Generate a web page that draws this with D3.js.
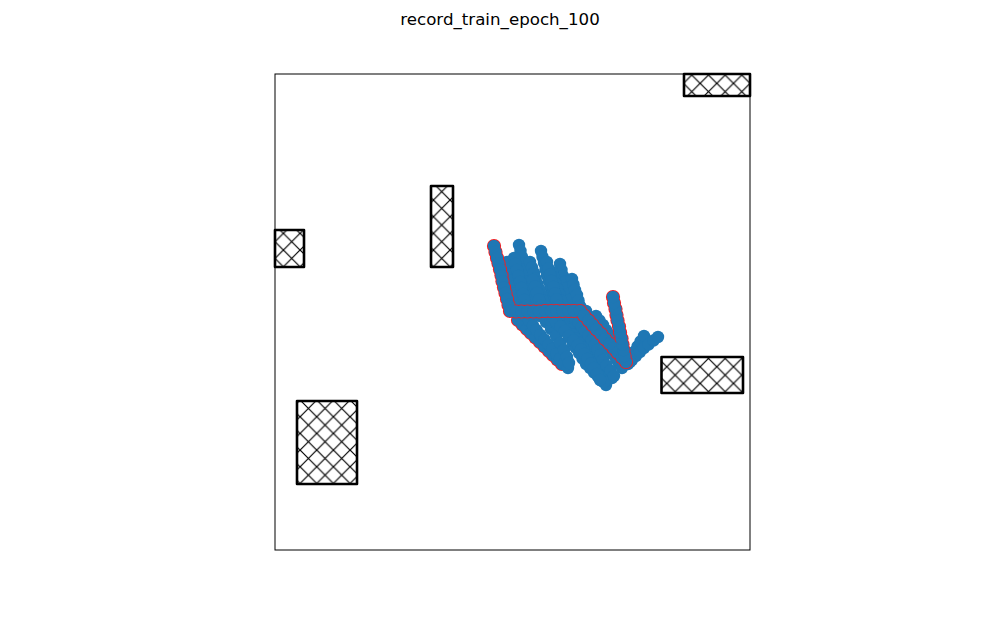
<!DOCTYPE html>
<html><head><meta charset="utf-8">
<script src="https://cdn.jsdelivr.net/npm/d3@7"></script>
<style>body{margin:0;background:#fff}</style>
</head><body><svg id="c" width="1000" height="618"></svg>
<script>
const chartTitle = "record_train_epoch_100";
const xDomain = [0, 9.5];
const yDomain = [0, 9.52];

// obstacles: [x0, y0, x1, y1]
const obstacles = [
  [8.18, 9.08, 9.50, 9.52],
  [0.00, 5.66, 0.58, 6.40],
  [3.12, 5.66, 3.56, 7.28],
  [0.44, 1.32, 1.64, 2.98],
  [7.73, 3.14, 9.36, 3.86]
];

// highlighted (red-outlined) trajectories
const highlightLower = [[4.86,4.60],[4.95,4.51],[5.04,4.42],[5.12,4.34],[5.21,4.25],[5.30,4.16],[5.39,4.07],[5.48,3.98],[5.56,3.90],[5.65,3.81],[5.74,3.72]];
const highlightMain = [
  [4.38,6.08],[4.41,5.96],[4.44,5.84],[4.47,5.73],[4.50,5.61],[4.53,5.49],[4.55,5.37],[4.58,5.25],[4.61,5.14],[4.64,5.02],[4.67,4.90],[4.70,4.78],
  [4.82,4.77],[4.93,4.77],[5.05,4.77],[5.17,4.77],[5.28,4.77],[5.40,4.78],[5.52,4.78],[5.63,4.78],[5.75,4.78],[5.87,4.78],[5.98,4.78],[6.10,4.78],
  [6.18,4.69],[6.27,4.59],[6.35,4.50],[6.43,4.41],[6.52,4.32],[6.60,4.22],[6.69,4.13],[6.77,4.04],[6.85,3.95],[6.94,3.85],[7.02,3.76],
  [6.99,3.88],[6.97,4.00],[6.95,4.11],[6.93,4.23],[6.90,4.35],[6.88,4.47],[6.85,4.59],[6.83,4.70],[6.81,4.82],[6.78,4.94],[6.76,5.06]
];

// other recorded trajectories
const traj0 = [[4.64,5.76],[4.67,5.63],[4.70,5.51],[4.73,5.38],[4.75,5.26],[4.78,5.13],[4.81,5.01],[4.84,4.88],[4.92,4.78],[5.00,4.68],[5.08,4.59],[5.16,4.49],[5.23,4.40],[5.31,4.30],[5.39,4.21],[5.47,4.11],[5.55,4.02],[5.63,3.92],[5.70,3.83],[5.78,3.73],[5.86,3.64]];
const traj1 = [[4.88,6.10],[4.91,5.98],[4.94,5.86],[4.97,5.73],[5.00,5.61],[5.03,5.49],[5.06,5.37],[5.09,5.25],[5.12,5.12],[5.15,5.00],[5.18,4.88],[5.24,4.78],[5.30,4.68],[5.42,4.56],[5.52,4.42],[5.62,4.28],[5.70,4.14],[5.78,4.00],[5.84,3.86],[5.88,3.74]];
const traj2 = [[5.32,5.98],[5.35,5.86],[5.38,5.74],[5.41,5.61],[5.44,5.49],[5.48,5.37],[5.51,5.25],[5.54,5.12],[5.57,5.00],[5.60,4.88],[5.64,4.76],[5.68,4.62],[5.74,4.48],[5.81,4.37],[5.88,4.26],[5.95,4.15],[6.01,4.05],[6.08,3.94],[6.15,3.83],[6.22,3.72],[6.30,3.64],[6.38,3.55],[6.46,3.47],[6.54,3.38],[6.62,3.30]];
const traj3 = [[5.10,5.76],[5.14,5.65],[5.18,5.54],[5.21,5.43],[5.25,5.32],[5.29,5.21],[5.33,5.10],[5.36,4.99],[5.40,4.88],[5.52,4.82],[5.64,4.76],[5.78,4.70],[5.90,4.64],[5.98,4.55],[6.05,4.45],[6.13,4.36],[6.20,4.27],[6.28,4.18],[6.35,4.08],[6.43,3.99],[6.50,3.90],[6.56,3.78],[6.62,3.67],[6.68,3.55],[6.74,3.44]];
const traj4 = [[5.70,5.72],[5.73,5.60],[5.76,5.48],[5.79,5.36],[5.83,5.24],[5.86,5.12],[5.89,5.00],[5.92,4.88],[6.02,4.80],[6.10,4.72],[6.20,4.64],[6.27,4.55],[6.34,4.46],[6.41,4.37],[6.49,4.27],[6.56,4.18],[6.63,4.09],[6.70,4.00],[6.76,3.91],[6.82,3.82],[6.88,3.73],[6.94,3.64],[7.02,3.75],[7.10,3.85],[7.18,3.96],[7.25,4.07],[7.31,4.17],[7.38,4.28]];
const traj5 = [[5.54,5.56],[5.58,5.45],[5.61,5.33],[5.65,5.22],[5.69,5.11],[5.72,4.99],[5.76,4.88],[5.88,4.82],[6.00,4.76],[6.12,4.68],[6.24,4.60],[6.36,4.50],[6.46,4.40],[6.53,4.31],[6.59,4.21],[6.66,4.12],[6.73,4.03],[6.79,3.93],[6.86,3.84],[6.96,3.76],[7.06,3.72],[7.14,3.80],[7.22,3.88],[7.30,3.96],[7.38,4.04],[7.47,4.11],[7.57,4.19],[7.66,4.26]];
const traj6 = [[5.94,5.42],[5.97,5.31],[6.00,5.20],[6.04,5.10],[6.07,4.99],[6.10,4.88],[6.22,4.78],[6.34,4.64],[6.44,4.52],[6.54,4.40],[6.64,4.28],[6.74,4.16],[6.84,4.04],[6.92,3.92]];
const traj7 = [[4.78,5.84],[4.81,5.72],[4.84,5.60],[4.87,5.48],[4.90,5.36],[4.93,5.24],[4.96,5.12],[4.99,5.00],[5.02,4.88],[5.14,4.78],[5.28,4.70],[5.40,4.64],[5.52,4.58],[5.64,4.52],[5.78,4.46],[5.90,4.40],[5.96,4.31],[6.03,4.22],[6.09,4.14],[6.16,4.05],[6.22,3.96],[6.28,3.86],[6.34,3.76],[6.40,3.66],[6.46,3.56],[6.52,3.46],[6.58,3.36]];
const traj8 = [[5.44,5.76],[5.47,5.63],[5.50,5.51],[5.53,5.38],[5.57,5.26],[5.60,5.13],[5.63,5.01],[5.66,4.88],[5.78,4.78],[5.90,4.70],[6.00,4.64],[6.07,4.55],[6.14,4.46],[6.20,4.38],[6.27,4.29],[6.34,4.20],[6.40,4.10],[6.45,4.00],[6.51,3.90],[6.56,3.80],[6.63,3.69],[6.71,3.59],[6.78,3.48]];
const traj9 = [[5.16,5.40],[5.20,5.27],[5.24,5.14],[5.28,5.01],[5.32,4.88],[5.44,4.76],[5.54,4.66],[5.62,4.56],[5.71,4.47],[5.80,4.38],[5.88,4.28],[5.97,4.19],[6.06,4.10],[6.12,4.01],[6.19,3.92],[6.25,3.82],[6.32,3.73],[6.38,3.64],[6.44,3.52],[6.50,3.40]];
const traj10 = [[6.42,4.68],[6.49,4.59],[6.56,4.50],[6.62,4.40],[6.69,4.31],[6.76,4.22],[6.83,4.13],[6.90,4.04],[6.96,3.94],[7.03,3.85],[7.10,3.76]];
const blueTrajectories = [traj0, traj1, traj2, traj3, traj4, traj5, traj6, traj7, traj8, traj9, traj10];

const svg = d3.select("#c");
const x = d3.scaleLinear().domain(xDomain).range([275, 750]);
const y = d3.scaleLinear().domain(yDomain).range([550, 74]);

// hatch pattern
const hs = 16.67;
const pat = svg.append("defs").append("pattern")
  .attr("id", "hatch").attr("patternUnits", "userSpaceOnUse")
  .attr("width", hs).attr("height", hs);
pat.append("rect").attr("width", hs).attr("height", hs).attr("fill", "#fff");
pat.append("path")
  .attr("d", `M-2,-2 L${hs+2},${hs+2} M-2,${hs+2} L${hs+2},-2`)
  .attr("stroke", "#000").attr("stroke-width", 1.2).attr("fill", "none");

svg.append("rect").attr("x", 0).attr("y", 0).attr("width", 1000).attr("height", 618).attr("fill", "#fff");

svg.append("text").attr("x", 500).attr("y", 25)
  .attr("text-anchor", "middle")
  .attr("font-family", "DejaVu Sans, sans-serif").attr("font-size", "16.67px")
  .attr("fill", "#000").text(chartTitle);

// obstacles
svg.append("g").selectAll("rect").data(obstacles).join("rect")
  .attr("x", d => x(d[0])).attr("y", d => y(d[3]))
  .attr("width", d => x(d[2]) - x(d[0])).attr("height", d => y(d[1]) - y(d[3]))
  .attr("fill", "url(#hatch)").attr("stroke", "#000").attr("stroke-width", 2.6)
  .attr("stroke-linejoin", "round");

const R = 6.2;
const BLUE = "#1f77b4";
function drawBlue(pts) {
  svg.append("g").selectAll("circle").data(pts).join("circle")
    .attr("cx", d => x(d[0])).attr("cy", d => y(d[1])).attr("r", R)
    .attr("fill", BLUE);
}
function drawHighlight(pts) {
  // red rim underneath, blue markers on top: only the outer outline stays red
  svg.append("g").selectAll("circle").data(pts).join("circle")
    .attr("cx", d => x(d[0])).attr("cy", d => y(d[1])).attr("r", R + 0.9)
    .attr("fill", "#ff1a1a");
  drawBlue(pts);
}
drawHighlight(highlightLower);
blueTrajectories.forEach(drawBlue);
drawHighlight(highlightMain);

// axes frame
svg.append("rect").attr("x", 275).attr("y", 74).attr("width", 475).attr("height", 476)
  .attr("fill", "none").attr("stroke", "#000").attr("stroke-width", 1);
</script></body></html>
